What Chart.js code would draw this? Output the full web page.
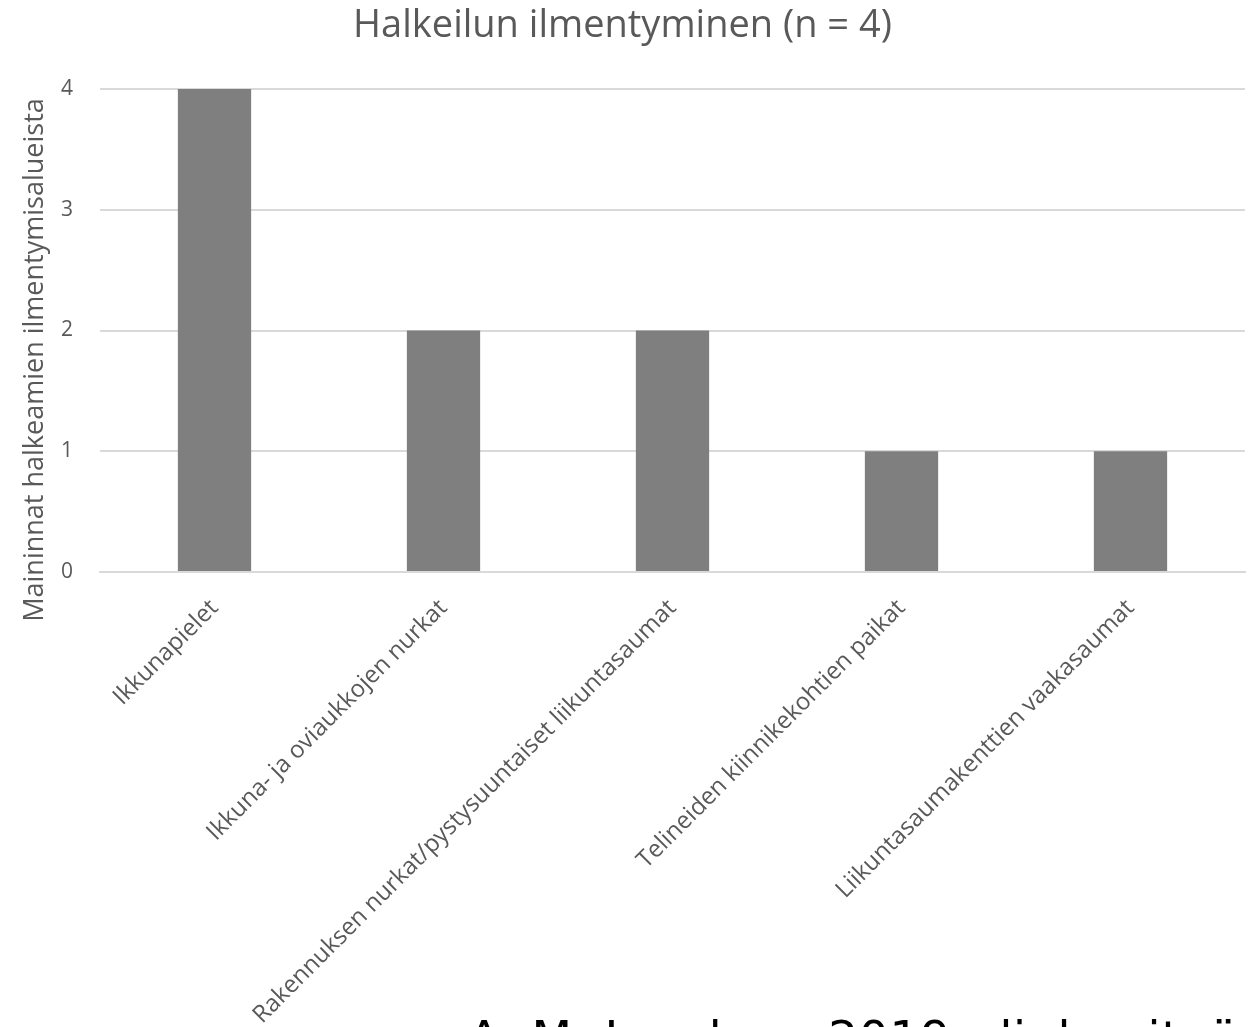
<!DOCTYPE html>
<html><head><meta charset="utf-8">
<script src="https://cdn.jsdelivr.net/npm/chart.js@4"></script>
<style>
html,body{margin:0;padding:0;background:#fff;overflow:hidden;width:1255px;height:1027px}
#wrap{position:relative;width:1255px;height:1027px;overflow:hidden}
#note{position:absolute;left:468px;top:1014px;font-family:"DejaVu Sans";font-size:47px;letter-spacing:0.8px;color:#000;white-space:nowrap;line-height:1}
</style></head><body>
<div id="wrap"><canvas id="c" width="1255" height="1027"></canvas><div id="note"></div></div>
<script>
const categories = [
  "Ikkunapielet",
  "Ikkuna- ja oviaukkojen nurkat",
  "Rakennuksen nurkat/pystysuuntaiset liikuntasaumat",
  "Telineiden kiinnikekohtien paikat",
  "Liikuntasaumakenttien vaakasaumat"
];
const values = [4, 2, 2, 1, 1];
const yMin = 0, yMax = 4, yStep = 1;
const chartTitle = "Halkeilun ilmentyminen (n = 4)";
const yAxisTitle = "Maininnat halkeamien ilmentymisalueista";
const footnote = "A. M. Lundeen 2019, diplomityö";

document.getElementById('note').textContent = footnote;

const textGray = '#595959';
const fontFam = '"Open Sans"';
const yTitlePlugin = {
  id: 'yTitle',
  afterDraw(chart) {
    const ctx = chart.ctx;
    ctx.save();
    ctx.font = '27px ' + fontFam;
    ctx.fillStyle = textGray;
    ctx.textAlign = 'center';
    ctx.textBaseline = 'middle';
    ctx.translate(35, 360);
    ctx.rotate(-Math.PI / 2);
    ctx.fillText(yAxisTitle, 0, 0);
    ctx.restore();
  }
};

new Chart(document.getElementById('c'), {
  type: 'bar',
  data: {
    labels: categories,
    datasets: [{
      data: values,
      backgroundColor: '#7f7f7f',
      borderWidth: 0,
      barPercentage: 0.32,
      categoryPercentage: 1
    }]
  },
  options: {
    responsive: false,
    animation: false,
    devicePixelRatio: 1,
    layout: { padding: { left: 0, right: 10, top: 0, bottom: 0 } },
    plugins: {
      legend: { display: false },
      tooltip: { enabled: false },
      title: {
        display: true,
        text: chartTitle,
        color: textGray,
        font: { family: fontFam, size: 38, weight: 'normal' },
        padding: { top: 3, bottom: 40.4 }
      }
    },
    scales: {
      x: {
        grid: { display: false, drawTicks: false },
        border: { display: true, color: '#d9d9d9', width: 2 },
        ticks: {
          color: textGray,
          font: { family: fontFam, size: 24 },
          maxRotation: 45,
          minRotation: 45,
          autoSkip: false,
          padding: 22
        },
        afterFit(s) { s.height = 455; }
      },
      y: {
        min: yMin,
        max: yMax,
        grid: { color: '#d9d9d9', lineWidth: 2, drawTicks: false },
        border: { display: false },
        ticks: {
          stepSize: yStep,
          color: textGray,
          font: { family: fontFam, size: 21 },
          padding: 27
        },
        afterFit(s) { s.width = 100; }
      }
    }
  },
  plugins: [yTitlePlugin]
});
</script>
</body></html>
